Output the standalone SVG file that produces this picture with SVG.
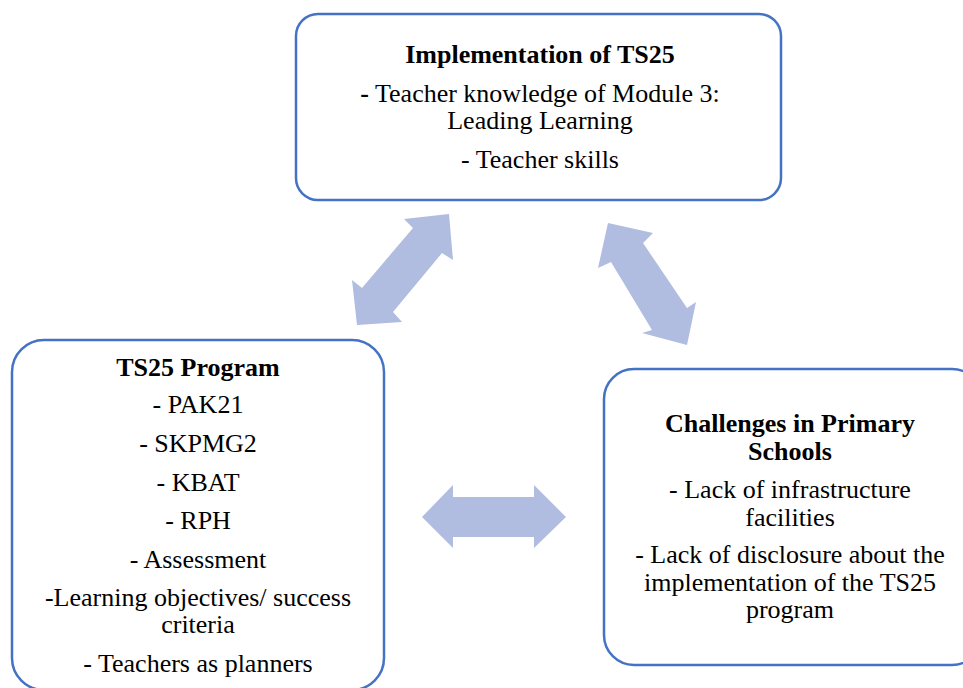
<svg xmlns="http://www.w3.org/2000/svg" width="963" height="688" viewBox="0 0 963 688">
<style>
.box{fill:#fff;stroke:#4472C4;stroke-width:2.5}
.t{font-size:26px;fill:#000;text-anchor:middle}
.b{font-weight:bold}
.arr{fill:#B0BDE0}
</style>
<rect width="963" height="688" fill="#fff"/>
<g id="connectors">
<polygon class="arr" points="449,214 453,260 442,253 393,312 402,322 357,325 352,280 362,288 413,228 404,219"/>
<polygon class="arr" points="608,223 653,233 643,243 687,308 696,302 687,345 642,333 652,330 611,262 598,268"/>
<polygon class="arr" points="422,517 453,485 453,497 534,497 534,485 566,517 534,548 534,537 453,537 453,548"/>
</g>
<g font-family="'Liberation Serif', Tinos, 'DejaVu Serif', serif">
<g id="implementation">
<rect class="box" x="296" y="14" width="485" height="186" rx="22"/>
<text class="t b" x="540" y="63">Implementation of TS25</text>
<text class="t" x="540" y="102"><tspan class="b">-</tspan> Teacher knowledge of Module 3:</text>
<text class="t" x="540" y="129">Leading Learning</text>
<text class="t" x="540" y="168">- Teacher skills</text>
</g>
<g id="program">
<rect class="box" x="12" y="340" width="372" height="350" rx="32"/>
<text class="t b" x="198" y="376">TS25 Program</text>
<text class="t" x="198" y="413">- PAK21</text>
<text class="t" x="198" y="452">- SKPMG2</text>
<text class="t" x="198" y="491">- KBAT</text>
<text class="t" x="198" y="529">- RPH</text>
<text class="t" x="198" y="568">- Assessment</text>
<text class="t" x="198" y="606">-Learning objectives/ success</text>
<text class="t" x="198" y="633">criteria</text>
<text class="t" x="198" y="672">- Teachers as planners</text>
</g>
<g id="challenges">
<rect class="box" x="604" y="369" width="378" height="296" rx="30"/>
<text class="t b" x="790" y="432">Challenges in Primary</text>
<text class="t b" x="790" y="460">Schools</text>
<text class="t" x="790" y="498">- Lack of infrastructure</text>
<text class="t" x="790" y="526">facilities</text>
<text class="t" x="790" y="563">- Lack of disclosure about the</text>
<text class="t" x="790" y="591">implementation of the TS25</text>
<text class="t" x="790" y="618">program</text>
</g>
</g>
</svg>
